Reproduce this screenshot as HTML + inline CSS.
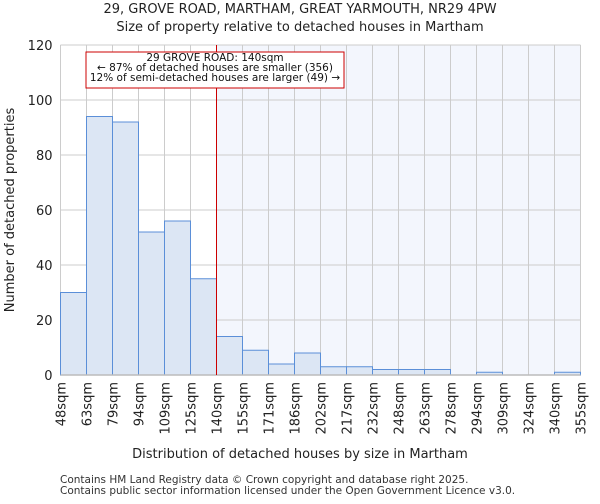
<!DOCTYPE html>
<html><head><meta charset="utf-8"><style>
body{margin:0;background:#fff;font-family:"DejaVu Sans","Liberation Sans",sans-serif}
text{font-family:"DejaVu Sans","Liberation Sans",sans-serif}
</style></head><body>
<svg width="600" height="500" xmlns="http://www.w3.org/2000/svg">
<text x="300" y="13" font-size="13" text-anchor="middle" fill="#222">29, GROVE ROAD, MARTHAM, GREAT YARMOUTH, NR29 4PW</text>
<text x="300" y="31" font-size="13" text-anchor="middle" fill="#222">Size of property relative to detached houses in Martham</text>
<g id="plot"></g>
<text x="300" y="458" font-size="13" text-anchor="middle" fill="#222">Distribution of detached houses by size in Martham</text>
<text transform="translate(14,210) rotate(-90)" font-size="13" text-anchor="middle" fill="#222">Number of detached properties</text>
<text x="60" y="483" font-size="10.5" fill="#333">Contains HM Land Registry data © Crown copyright and database right 2025.</text>
<text x="60" y="494" font-size="10.5" fill="#333">Contains public sector information licensed under the Open Government Licence v3.0.</text>
</svg>
<script>
const categories=["48sqm","63sqm","79sqm","94sqm","109sqm","125sqm","140sqm","155sqm","171sqm","186sqm","202sqm","217sqm","232sqm","248sqm","263sqm","278sqm","294sqm","309sqm","324sqm","340sqm","355sqm"];
const counts=[30,94,92,52,56,35,14,9,4,8,3,3,2,2,2,0,1,0,0,1];
const yTicks=[0,20,40,60,80,100,120];
const markerIndex=6;
const NS="http://www.w3.org/2000/svg";
const g=document.getElementById('plot');
const L=60.5,R=580.5,T=45,B=375,yMax=120;
const bw=(R-L)/counts.length;
const xs=i=>L+i*bw;
const ys=v=>B-v/yMax*(B-T);
function mk(t,a){const e=document.createElementNS(NS,t);for(const k in a)e.setAttribute(k,a[k]);g.appendChild(e);return e;}
let e;
e=mk('rect',{x:xs(markerIndex),y:T,width:R-xs(markerIndex),height:B-T,fill:'#f3f6fd'});


yTicks.forEach(v=>{
 e=mk('line',{x1:L,x2:R,y1:ys(v),y2:ys(v),stroke:'#ccc','stroke-width':1});
 
 
 e=mk('text',{x:L-8,y:ys(v)+5,'font-size':13,'text-anchor':'end',fill:'#222'});e.textContent=v;
 
 
});
categories.forEach((c,i)=>{
 e=mk('line',{x1:xs(i),x2:xs(i),y1:T,y2:B,stroke:'#ccc','stroke-width':1});
 
 
 e=mk('text',{transform:`translate(${xs(i)+5},382) rotate(-90)`,'font-size':13,'text-anchor':'end',fill:'#222'});e.textContent=c;
 
 
});
counts.forEach((v,i)=>{
 if(v<=0)return;
 e=mk('rect',{x:xs(i),y:ys(v),width:bw,height:B-ys(v),fill:'#dce6f4',stroke:'#5b8fd8','stroke-width':1});
 
 
});
e=mk('line',{x1:L,x2:R,y1:B,y2:B,stroke:'#bbb','stroke-width':1.5});


e=mk('line',{x1:xs(markerIndex),x2:xs(markerIndex),y1:T,y2:B,stroke:'#cc0000','stroke-width':1});


e=mk('rect',{x:86,y:52,width:258,height:36,fill:'#fff',stroke:'#cc0000','stroke-width':1});


const lines=["29 GROVE ROAD: 140sqm","← 87% of detached houses are smaller (356)","12% of semi-detached houses are larger (49) →"];
lines.forEach((s,k)=>{
 e=mk('text',{x:215,y:61+k*10,'font-size':10.5,'text-anchor':'middle',fill:'#111'});e.textContent=s;
 
 
});
</script>
</body></html>
